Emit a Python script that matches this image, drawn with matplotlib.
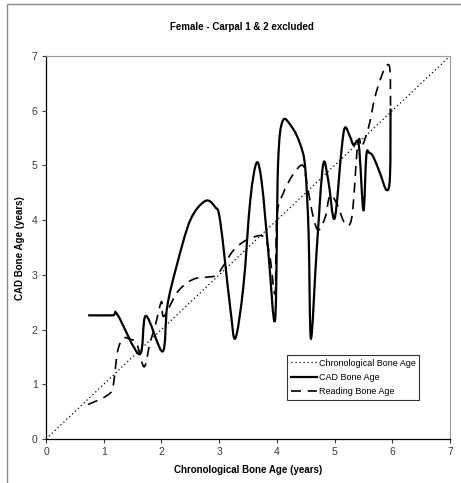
import numpy as np
import matplotlib.pyplot as plt
from matplotlib.path import Path
from matplotlib.patches import PathPatch, Rectangle
from matplotlib.lines import Line2D

plt.rcParams['font.family'] = ['Liberation Sans', 'DejaVu Sans']

# values
chrono_x = [0.0, 7.0]
chrono_y = [0.0, 7.0]

cad_x = [0.73, 1.15, 1.24, 1.62, 1.73, 2.02, 2.10, 2.26, 2.50, 2.76, 2.93, 3.02, 3.19,
         3.28, 3.42, 3.54, 3.65, 3.74, 3.85, 3.97, 4.02, 4.10, 4.26, 4.40, 4.49, 4.55,
         4.59, 4.69, 4.80, 4.89, 5.00, 5.12, 5.18, 5.27, 5.33, 5.42, 5.50, 5.55,
         5.60, 5.67, 5.79, 5.90, 5.96, 5.97]
cad_y = [2.26, 2.26, 2.27, 1.55, 2.25, 1.60, 2.42, 3.15, 4.00, 4.35, 4.24, 3.97, 2.42,
         1.84, 2.79, 4.37, 5.05, 4.67, 3.45, 2.18, 5.00, 5.81, 5.70, 5.40, 4.97, 3.76,
         1.84, 3.45, 5.00, 4.73, 4.03, 5.28, 5.69, 5.52, 5.37, 5.37, 4.18, 5.18,
         5.23, 5.16, 4.85, 4.55, 4.79, 6.04]

read_x = [0.73, 1.05, 1.16, 1.24, 1.34, 1.46, 1.57, 1.70, 1.80, 1.89, 2.00, 2.04,
          2.26, 2.44, 2.61, 2.81, 2.96, 3.10, 3.25, 3.48, 3.77, 3.88, 3.97, 4.00,
          4.11, 4.29, 4.45, 4.52, 4.63, 4.72, 4.84, 4.92, 5.04, 5.18, 5.30, 5.39,
          5.43, 5.47, 5.59, 5.70, 5.82, 5.90, 5.96, 5.97]
read_y = [0.63, 0.79, 0.96, 1.60, 1.84, 1.82, 1.75, 1.32, 1.75, 2.06, 2.51, 2.24,
          2.66, 2.85, 2.94, 2.96, 3.00, 3.21, 3.45, 3.64, 3.70, 3.33, 2.66, 4.06,
          4.49, 4.85, 5.00, 4.67, 4.06, 3.82, 4.06, 4.45, 4.30, 3.94, 4.06, 5.28,
          5.49, 5.34, 5.70, 6.25, 6.65, 6.83, 6.74, 6.01]

ticks = [0, 1, 2, 3, 4, 5, 6, 7]


def smooth_path(x, y):
    # Excel-style smoothed line: cubic bezier through every point
    p = np.column_stack([x, y])
    n = len(p)
    verts = [p[0]]
    codes = [Path.MOVETO]
    for i in range(n - 1):
        p0 = p[max(i - 1, 0)]
        p1, p2 = p[i], p[i + 1]
        p3 = p[min(i + 2, n - 1)]
        verts += [p1 + (p2 - p0) / 6, p2 - (p3 - p1) / 6, p2]
        codes += [Path.CURVE4] * 3
    return Path(verts, codes)


W, H = 461, 483
fig = plt.figure(figsize=(W / 100, H / 100), dpi=100)
fig.patches.append(Rectangle((7 / W, -0.1), 1.2, 1.1 - 4 / H, transform=fig.transFigure,
                             fill=False, ec='#8c8c8c', lw=1.0))

ax = fig.add_axes([46 / W, 1 - 439 / H, (450 - 46) / W, (439 - 56) / H])

dotted = dict(color='black', lw=0.9, ls=(0, (1, 2.2)))
solid = dict(color='black', lw=1.6, ls='-')
dashed = dict(color='black', lw=1.2, ls=(0, (6, 4)))

ax.plot(chrono_x, chrono_y, **dotted)
ax.add_patch(PathPatch(smooth_path(cad_x, cad_y), fill=False, capstyle='butt', **solid))
ax.add_patch(PathPatch(smooth_path(read_x, read_y), fill=False, capstyle='butt', **dashed))

ax.set_xlim(0, 7)
ax.set_ylim(0, 7)
ax.set_xticks(ticks)
ax.set_yticks(ticks)
ax.tick_params(direction='out', length=3, width=0.8, labelsize=7.5, colors='#3a3a3a', pad=3)
for s in ('top', 'right'):
    ax.spines[s].set_color('#9a9a9a')
    ax.spines[s].set_linewidth(0.8)
for s in ('left', 'bottom'):
    ax.spines[s].set_linewidth(0.9)

handles = [Line2D([], [], **dotted), Line2D([], [], **solid), Line2D([], [], **dashed)]
labels = ['Chronological Bone Age', 'CAD Bone Age', 'Reading Bone Age']
leg = fig.legend(handles, labels, loc='upper left', bbox_to_anchor=(287 / W, 1 - 355 / H),
                 fontsize=6.5, frameon=True, fancybox=False, handlelength=2.9,
                 handletextpad=0.2, labelspacing=0.6, borderpad=0.4, borderaxespad=0)
leg.get_frame().set_edgecolor('black')
leg.get_frame().set_linewidth(0.8)

fig.text(242 / W, 1 - 27 / H, 'Female - Carpal 1 & 2 excluded', ha='center', va='center',
         fontsize=7, fontweight='bold')
fig.text(248 / W, 1 - 470 / H, 'Chronological Bone Age (years)', ha='center', va='center',
         fontsize=7, fontweight='bold')
fig.text(20 / W, 1 - 248 / H, 'CAD Bone Age (years)', ha='center', va='center',
         rotation=90, fontsize=7, fontweight='bold')

fig.savefig('out.png', dpi=100)
